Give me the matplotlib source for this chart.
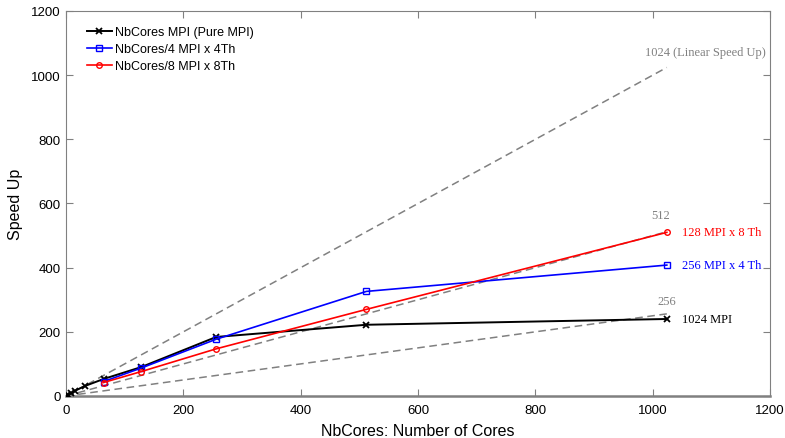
import matplotlib
matplotlib.use('Agg')
import matplotlib.pyplot as plt

plt.rcParams['font.family'] = ['Liberation Sans', 'DejaVu Sans']

# data
cores_mpi = [1, 2, 4, 8, 16, 32, 64, 128, 256, 512, 1024]
speed_mpi = [1, 2, 4, 8, 17, 31, 53, 90, 184, 222, 240]
cores_hyb = [64, 128, 256, 512, 1024]
speed_4th = [45, 87, 177, 326, 408]
speed_8th = [42, 76, 147, 270, 510]
ref_slopes = [1.0, 0.5, 0.25]
ref_end = 1024

GREY = '#808080'

fig = plt.figure(figsize=(7.85, 4.39), dpi=100)
ax = fig.add_axes([0.0841, 0.0957, 0.8969, 0.877])

for s in ref_slopes:
    ax.plot([0, ref_end], [0, ref_end * s], color=GREY, lw=1.1,
            dashes=(5, 3), zorder=1)

ax.plot(cores_mpi, speed_mpi, '-x', color='black', lw=1.4, ms=4, mew=1.3,
        label='NbCores MPI (Pure MPI)', zorder=3)
ax.plot(cores_hyb, speed_4th, '-s', color='blue', lw=1.2, ms=4, mfc='none',
        label='NbCores/4 MPI x 4Th', zorder=3)
ax.plot(cores_hyb, speed_8th, '-o', color='red', lw=1.2, ms=4, mfc='none',
        label='NbCores/8 MPI x 8Th', zorder=3)

serif = dict(family='Liberation Serif', fontsize=9)
ax.text(1089, 1072, '1024 (Linear Speed Up)', color=GREY, ha='center', va='center', **serif)
ax.text(1014, 564, '512', color=GREY, ha='center', va='center', **serif)
ax.text(1024, 296, '256', color=GREY, ha='center', va='center', **serif)
ax.text(1050, 510, '128 MPI x 8 Th', color='red', ha='left', va='center', **serif)
ax.text(1050, 408, '256 MPI x 4 Th', color='blue', ha='left', va='center', **serif)
ax.text(1050, 240, '1024 MPI', color='black', ha='left', va='center', **serif)

ax.set_xlim(0, 1200)
ax.set_ylim(0, 1200)
ax.set_xticks(range(0, 1201, 200))
ax.set_yticks(range(0, 1201, 200))
ax.tick_params(direction='in', top=True, right=True, labelsize=9.5, length=5,
               color=GREY, pad=4)
ax.tick_params(axis='x', pad=6)
for sp in ax.spines.values():
    sp.set_color(GREY)
ax.spines['bottom'].set_linewidth(1.8)
ax.set_xlabel('NbCores: Number of Cores', fontsize=11.5, labelpad=5)
ax.set_ylabel('Speed Up', fontsize=11.5, labelpad=6)

ax.legend(loc='upper left', frameon=False, fontsize=9, handlelength=2.0,
          handletextpad=0.3, labelspacing=0.42, borderaxespad=0.8,
          bbox_to_anchor=(0.008, 1.0))

fig.savefig('out.png', dpi=100)
